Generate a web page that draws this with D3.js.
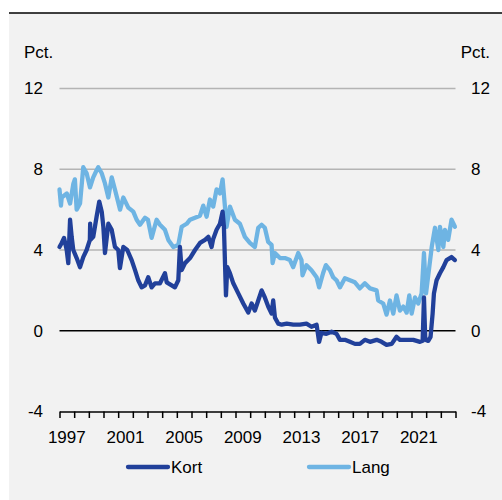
<!DOCTYPE html>
<html>
<head>
<meta charset="utf-8">
<script src="https://cdn.jsdelivr.net/npm/d3@7"></script>
<style>
  body { margin: 0; background: #ffffff; }
  text { font-family: "Liberation Sans", Arial, sans-serif; fill: #000; }
</style>
</head>
<body>
<div id="vis"></div>
<script>
// frame size
const FRAME_WIDTH = 502;
const FRAME_HEIGHT = 500;

// plot area edges
const MARGINS = {left: 59.5, right: 455.5, top: 88.5, bottom: 411.5};

// tick labels
const Y_TICKS = [-4, 0, 4, 8, 12];
const X_LABELS = [1997, 2001, 2005, 2009, 2013, 2017, 2021];
const YEARS = d3.range(1997, 2025);
const SERIES_NAMES = ["Kort", "Lang"];
const COLORS = {Kort: "#21409a", Lang: "#6eb4e3"};

// short rate (decimal year, pct.)
const KORT_T = [1997.00, 1997.15, 1997.31, 1997.49, 1997.60, 1997.72, 1997.83, 1997.94, 1998.17, 1998.40,
  1998.62, 1998.85, 1999.07, 1999.09, 1999.11, 1999.30, 1999.53, 1999.71, 1999.88, 1999.99,
  2000.10, 2000.33, 2000.56, 2000.78, 2001.01, 2001.12, 2001.35, 2001.62, 2001.92, 2002.15,
  2002.37, 2002.60, 2002.83, 2003.05, 2003.28, 2003.51, 2003.85, 2004.19, 2004.31, 2004.65,
  2004.87, 2005.10, 2005.21, 2005.33, 2005.56, 2005.90, 2006.24, 2006.58, 2006.92, 2007.15,
  2007.37, 2007.48, 2007.71, 2007.94, 2008.12, 2008.21, 2008.35, 2008.44, 2008.62, 2008.85,
  2009.19, 2009.53, 2009.87, 2010.10, 2010.32, 2010.55, 2010.78, 2011.00, 2011.23, 2011.46,
  2011.57, 2011.69, 2011.92, 2012.15, 2012.49, 2012.94, 2013.39, 2013.84, 2014.18, 2014.53,
  2014.70, 2014.86, 2015.20, 2015.55, 2015.89, 2016.12, 2016.46, 2016.80, 2017.14, 2017.48,
  2017.82, 2018.17, 2018.62, 2018.96, 2019.30, 2019.65, 2019.98, 2020.21, 2020.67, 2021.12,
  2021.58, 2021.76, 2021.85, 2021.94, 2022.14, 2022.30, 2022.44, 2022.53, 2022.71, 2022.94,
  2023.17, 2023.39, 2023.73, 2023.96];
const KORT_V = [4.15, 4.35, 4.6, 4.0, 3.35, 5.5, 4.65, 4.0, 3.6, 3.15,
  3.65, 4.0, 4.5, 5.3, 4.5, 4.65, 5.65, 6.4, 5.9, 5.15,
  3.85, 5.3, 5.0, 4.15, 4.0, 3.1, 4.15, 4.0, 3.5, 3.0,
  2.5, 2.15, 2.25, 2.65, 2.15, 2.35, 2.35, 2.85, 2.4, 2.25,
  2.15, 2.5, 4.15, 3.0, 3.35, 3.6, 4.0, 4.35, 4.5, 4.65,
  4.15, 4.55, 5.0, 5.3, 5.9, 5.15, 1.75, 3.15, 2.85, 2.35,
  1.85, 1.35, 0.9, 1.35, 1.0, 1.5, 2.0, 1.65, 1.2, 0.85,
  1.5, 0.65, 0.35, 0.3, 0.35, 0.3, 0.3, 0.35, 0.2, 0.3,
  -0.55, -0.1, -0.15, -0.05, -0.15, -0.45, -0.45, -0.55, -0.65, -0.65,
  -0.45, -0.55, -0.45, -0.55, -0.7, -0.65, -0.3, -0.45, -0.45, -0.45,
  -0.55, -0.5, 1.65, -0.45, -0.5, -0.3, 0.85, 1.85, 2.5, 2.85,
  3.15, 3.5, 3.65, 3.5];

// long rate (decimal year, pct.)
const LANG_T = [1997.00, 1997.10, 1997.15, 1997.50, 1997.72, 1997.95, 1998.05, 1998.17, 1998.40, 1998.62,
  1998.85, 1999.08, 1999.30, 1999.53, 1999.64, 1999.88, 2000.10, 2000.33, 2000.56, 2000.78,
  2001.13, 2001.35, 2001.69, 2002.03, 2002.26, 2002.49, 2002.83, 2003.03, 2003.28, 2003.62,
  2003.85, 2004.19, 2004.42, 2004.76, 2005.10, 2005.33, 2005.67, 2005.90, 2006.24, 2006.58,
  2006.80, 2007.03, 2007.26, 2007.48, 2007.71, 2007.94, 2008.12, 2008.28, 2008.39, 2008.62,
  2008.96, 2009.30, 2009.64, 2009.98, 2010.32, 2010.55, 2010.78, 2011.00, 2011.23, 2011.46,
  2011.53, 2011.69, 2012.03, 2012.37, 2012.71, 2012.93, 2013.28, 2013.50, 2013.57, 2013.84,
  2014.18, 2014.53, 2014.70, 2014.97, 2015.16, 2015.44, 2015.66, 2015.89, 2016.12, 2016.46,
  2016.80, 2017.14, 2017.48, 2017.82, 2018.17, 2018.62, 2018.73, 2019.07, 2019.30, 2019.53,
  2019.76, 2019.98, 2020.21, 2020.44, 2020.67, 2020.85, 2021.01, 2021.24, 2021.46, 2021.69,
  2021.85, 2021.99, 2022.21, 2022.38, 2022.60, 2022.83, 2022.94, 2023.17, 2023.28, 2023.50,
  2023.73, 2023.96];
const LANG_V = [7.0, 6.2, 6.6, 6.8, 6.3, 7.3, 7.5, 6.0, 6.3, 8.1,
  7.8, 7.1, 7.6, 7.95, 8.1, 7.8, 7.3, 6.6, 7.6, 7.0,
  6.0, 6.6, 6.1, 5.9, 5.5, 5.25, 5.6, 5.5, 4.6, 5.5,
  5.25, 5.0, 4.5, 4.15, 4.25, 5.15, 5.3, 5.5, 5.6, 5.7,
  6.2, 5.65, 6.5, 6.15, 7.0, 6.8, 7.5, 6.15, 5.15, 6.15,
  5.5, 5.3, 4.65, 4.35, 4.15, 5.1, 5.25, 5.1, 4.4, 4.25,
  3.35, 3.85, 3.6, 3.6, 3.5, 3.15, 3.85, 3.5, 2.75, 3.25,
  3.0, 2.65, 2.15, 2.85, 3.25, 3.0, 2.65, 2.5, 2.15, 2.6,
  2.5, 2.4, 2.1, 2.35, 2.1, 2.0, 1.5, 1.35, 0.8, 1.5,
  0.85, 1.75, 1.0, 1.2, 0.9, 1.75, 0.85, 1.65, 1.35, 1.85,
  3.85, 1.85, 3.15, 4.15, 5.1, 4.0, 5.15, 4.15, 5.0, 4.5,
  5.5, 5.15];

const SVG = d3.select("#vis")
  .append("svg")
    .attr("width", FRAME_WIDTH)
    .attr("height", FRAME_HEIGHT);

// grey panel and top rule
SVG.append("rect")
  .attr("x", 9).attr("y", 13)
  .attr("width", FRAME_WIDTH - 9).attr("height", FRAME_HEIGHT - 13)
  .attr("fill", "#f2f2f2");
SVG.append("line")
  .attr("x1", 9).attr("x2", FRAME_WIDTH)
  .attr("y1", 13).attr("y2", 13)
  .attr("stroke", "#000").attr("stroke-width", 1.5);

// scales
const X_SCALE = d3.scaleLinear()
  .domain([1997, 2024])
  .range([MARGINS.left, MARGINS.right]);
const Y_SCALE = d3.scaleLinear()
  .domain([-4, 12])
  .range([MARGINS.bottom, MARGINS.top]);

// horizontal grid lines
SVG.selectAll(".grid")
  .data(Y_TICKS.filter(d => d > -4))
  .enter()
  .append("line")
    .attr("class", "grid")
    .attr("x1", MARGINS.left).attr("x2", MARGINS.right)
    .attr("y1", d => Y_SCALE(d)).attr("y2", d => Y_SCALE(d))
    .attr("stroke", d => d === 0 ? "#000" : "#b4b4b4")
    .attr("stroke-width", 1.4);

// y labels, both sides
SVG.selectAll(".ylab-l")
  .data(Y_TICKS)
  .enter()
  .append("text")
    .attr("x", 43).attr("y", d => Y_SCALE(d))
    .attr("dy", "0.35em")
    .attr("text-anchor", "end")
    .attr("font-size", "17px")
    .text(d => d);
SVG.selectAll(".ylab-r")
  .data(Y_TICKS)
  .enter()
  .append("text")
    .attr("x", 471).attr("y", d => Y_SCALE(d))
    .attr("dy", "0.35em")
    .attr("font-size", "17px")
    .text(d => d);
SVG.append("text").attr("x", 24).attr("y", 57.5).attr("font-size", "17px").text("Pct.");
SVG.append("text").attr("x", 490).attr("y", 57.5).attr("font-size", "17px")
  .attr("text-anchor", "end").text("Pct.");

// x axis at the bottom with a tick for every year
SVG.append("g")
  .attr("transform", "translate(0," + MARGINS.bottom + ")")
  .call(d3.axisBottom(X_SCALE).tickValues(YEARS).tickFormat("").tickSizeInner(6.5).tickSizeOuter(0))
  .call(g => g.selectAll("line").attr("stroke", "#000").attr("stroke-width", 1.5))
  .call(g => g.select(".domain").attr("stroke", "#000").attr("stroke-width", 1.5));

SVG.selectAll(".xlab")
  .data(X_LABELS)
  .enter()
  .append("text")
    .attr("x", d => X_SCALE(d + 0.5))
    .attr("y", 443)
    .attr("text-anchor", "middle")
    .attr("font-size", "17px")
    .text(d => d);

// lines
const LINE = d3.line()
  .x(d => X_SCALE(d[0]))
  .y(d => Y_SCALE(d[1]));

const DATA = {
  Lang: LANG_T.map((t, i) => [t, LANG_V[i]]),
  Kort: KORT_T.map((t, i) => [t, KORT_V[i]])
};

["Lang", "Kort"].forEach(name => {
  SVG.append("path")
    .datum(DATA[name])
    .attr("d", LINE)
    .attr("fill", "none")
    .attr("stroke", COLORS[name])
    .attr("stroke-width", 4.3)
    .attr("stroke-linejoin", "round")
    .attr("stroke-linecap", "round");
});

// legend
const LEGEND_X = [128, 309];
SERIES_NAMES.forEach((name, i) => {
  SVG.append("line")
    .attr("x1", LEGEND_X[i]).attr("x2", LEGEND_X[i] + 40)
    .attr("y1", 467).attr("y2", 467)
    .attr("stroke", COLORS[name])
    .attr("stroke-width", 4.3)
    .attr("stroke-linecap", "round");
  SVG.append("text")
    .attr("x", LEGEND_X[i] + 43).attr("y", 473)
    .attr("font-size", "17px")
    .text(name);
});
</script>
</body>
</html>
